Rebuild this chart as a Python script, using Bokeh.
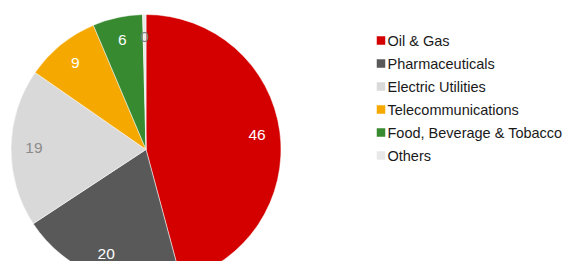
import math
from bokeh.plotting import figure
from bokeh.models import ColumnDataSource
from bokeh.core.properties import value
from bokeh.embed import file_html
from bokeh.resources import INLINE

# ---- data ----
categories = ["Oil & Gas", "Pharmaceuticals", "Electric Utilities",
              "Telecommunications", "Food, Beverage & Tobacco", "Others"]
shares = [46, 20, 19, 9, 6, 0.4]
labels = ["46", "20", "19", "9", "6", "0"]
colors = ["#D40000", "#595959", "#D9D9D9", "#F5A800", "#378A2F", "#E8E8E8"]
label_colors = ["#FFFFFF", "#FFFFFF", "#8C8C8C", "#FFFFFF", "#FFFFFF", "#808080"]

# ---- layout ----
W, H = 566, 261
cx, cy, R = 145.5, H - 149, 135
label_r = 0.83 * R
font = value("Liberation Sans")

p = figure(width=W, height=H, x_range=(0, W), y_range=(0, H),
           output_backend="svg", toolbar_location=None, min_border=0)
p.axis.visible = False
p.grid.visible = False
p.outline_line_color = None
p.background_fill_color = "white"
p.border_fill_color = "white"

total = sum(shares)
starts, ends, lx, ly = [], [], [], []
acc = 0.0
for s in shares:
    a0 = math.pi / 2 - 2 * math.pi * acc / total
    acc += s
    a1 = math.pi / 2 - 2 * math.pi * acc / total
    starts.append(a0)
    ends.append(a1)
    mid = (a0 + a1) / 2
    lx.append(cx + label_r * math.cos(mid))
    ly.append(cy + label_r * math.sin(mid))

src = ColumnDataSource(dict(start=starts, end=ends, color=colors,
                            lx=lx, ly=ly, label=labels, lcolor=label_colors))
p.wedge(x=cx, y=cy, radius=R, start_angle="start", end_angle="end",
        direction="clock", fill_color="color", line_color="white",
        line_width=0.5, source=src)
p.text(x="lx", y="ly", text="label", text_color="lcolor", text_font=font,
       text_font_size="15.5px", text_align="center", text_baseline="middle",
       source=src)

# legend
leg_x, leg_y0, leg_dy = 380.5, H - 40, 23
mx = [leg_x] * len(categories)
my = [leg_y0 - i * leg_dy for i in range(len(categories))]
leg = ColumnDataSource(dict(mx=mx, my=my, tx=[leg_x + 6.5] * len(categories),
                            cat=categories, color=colors))
p.rect(x="mx", y="my", width=8.5, height=8.5, fill_color="color",
       line_color=None, source=leg)
p.text(x="tx", y="my", text="cat", text_color="#1A1A1A", text_font=font,
       text_font_size="14.5px", text_align="left", text_baseline="middle",
       source=leg)

open("out.html", "w").write(file_html(p, INLINE))
